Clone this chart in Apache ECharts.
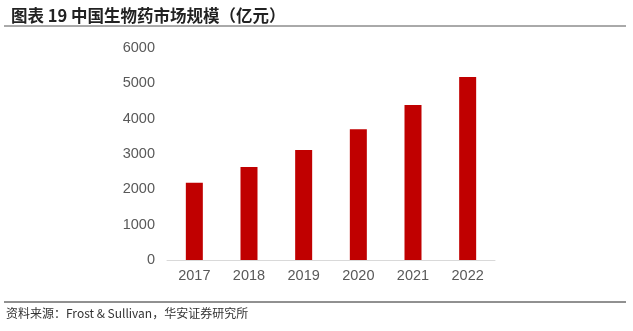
<!DOCTYPE html>
<html><head><meta charset="utf-8">
<script src="https://cdn.jsdelivr.net/npm/echarts@6/dist/echarts.min.js"></script>
<style>html,body{margin:0;padding:0;background:#fff}#c{width:633px;height:331px}</style>
</head><body><div id="c"></div>
<script>
const categories = ['2017','2018','2019','2020','2021','2022'];
const marketSize = [2185, 2630, 3115, 3700, 4390, 5180];
const yTicks = [0, 1000, 2000, 3000, 4000, 5000, 6000];

const chart = echarts.init(document.getElementById('c'));
chart.setOption({
  animation: false,
  backgroundColor: '#fff',
  title: {
    text: '图表 19 中国生物药市场规模（亿元）',
    left: 6, top: 2,
    textStyle: {fontFamily: '"Noto Sans CJK SC", sans-serif', fontSize: 16.5, fontWeight: 'bold', color: '#222'}
  },
  graphic: [
    {type: 'line', shape: {x1: 4, y1: 26, x2: 626, y2: 26}, style: {stroke: '#555', lineWidth: 1}},
    {type: 'line', shape: {x1: 4, y1: 302, x2: 626, y2: 302}, style: {stroke: '#222', lineWidth: 1}},
    {type: 'text', left: 6, top: 307, style: {text: '资料来源：Frost & Sullivan，华安证券研究所', font: '12px "Noto Sans CJK SC", sans-serif', fill: '#333'}}
  ],
  grid: {left: 167, right: 138, top: 48, bottom: 71},
  xAxis: {
    type: 'category', data: categories,
    axisLine: {lineStyle: {color: '#d9d9d9'}},
    axisTick: {show: false},
    axisLabel: {color: '#595959', fontSize: 14.5, margin: 8, fontFamily: 'Arial, "Liberation Sans", sans-serif'}
  },
  yAxis: {
    type: 'value', min: yTicks[0], max: yTicks[yTicks.length-1], interval: 1000,
    splitLine: {show: false},
    axisLine: {show: false}, axisTick: {show: false},
    axisLabel: {color: '#595959', fontSize: 14.5, margin: 12, fontFamily: 'Arial, "Liberation Sans", sans-serif',
      formatter: v => String(v)}
  },
  series: [{
    type: 'bar', data: marketSize, barWidth: 17,
    itemStyle: {color: '#C00000'}
  }]
});
</script></body></html>
